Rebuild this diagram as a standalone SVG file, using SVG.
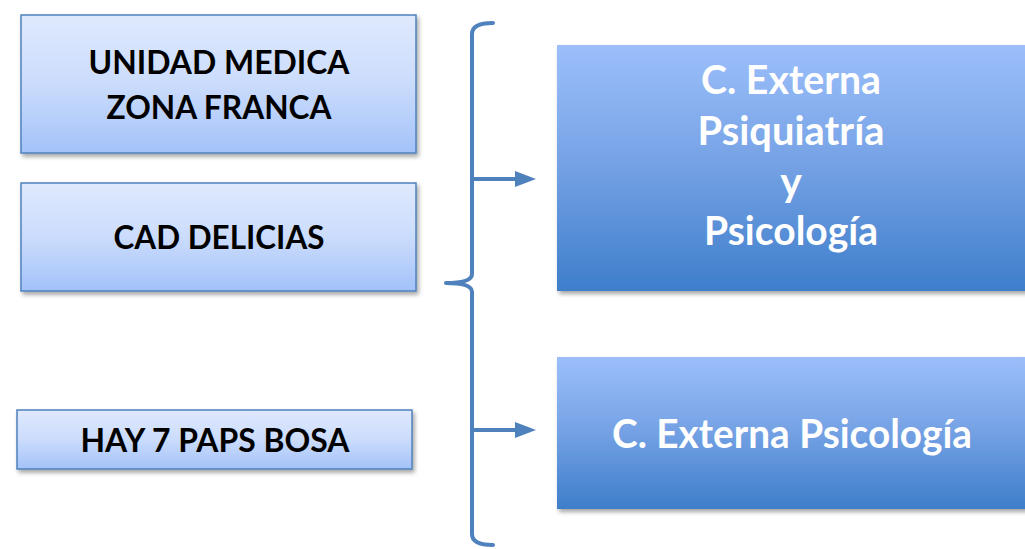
<svg xmlns="http://www.w3.org/2000/svg" width="1025" height="549" viewBox="0 0 1025 549">
  <defs>
    <linearGradient id="gLight" x1="0" y1="0" x2="0" y2="1">
      <stop offset="0" stop-color="#dfe9fd"/>
      <stop offset="0.5" stop-color="#cbdcfc"/>
      <stop offset="1" stop-color="#a3c2f9"/>
    </linearGradient>
    <linearGradient id="gDark" x1="0" y1="0" x2="0" y2="1">
      <stop offset="0" stop-color="#9cbffb"/>
      <stop offset="0.45" stop-color="#78a4e6"/>
      <stop offset="1" stop-color="#3e7ecb"/>
    </linearGradient>
    <filter id="shadow" x="-10%" y="-10%" width="120%" height="130%">
      <feDropShadow dx="2" dy="3" stdDeviation="2" flood-color="#000" flood-opacity="0.35"/>
    </filter>
    <marker id="arrow" viewBox="0 0 10 10" refX="9" refY="5" markerWidth="5" markerHeight="3.5" markerUnits="strokeWidth" orient="auto">
      <path d="M0,0 L10,5 L0,10 Z" fill="#4f81bd"/>
    </marker>
  </defs>
  <style>
    .light { fill: url(#gLight); stroke: #4f81bd; stroke-width: 1.5; filter: url(#shadow); }
    .dark { fill: url(#gDark); filter: url(#shadow); }
    .tl { font-family: Lato, "Open Sans", "Liberation Sans", sans-serif; font-weight: 700; font-size: 33px; fill: #000; text-anchor: middle; }
    .tr { font-family: Lato, "Open Sans", "Liberation Sans", sans-serif; font-weight: 700; font-size: 41px; fill: #fff; text-anchor: middle; }
    .conn { fill: none; stroke: #4f81bd; stroke-width: 4; stroke-linecap: round; stroke-linejoin: round; }
  </style>
  <rect width="1025" height="549" fill="#fff"/>

  <g id="node-unidad">
    <rect class="light" x="21" y="15" width="395" height="138"/>
    <text class="tl" x="219" y="74" textLength="261" lengthAdjust="spacingAndGlyphs">UNIDAD MEDICA</text>
    <text class="tl" x="219" y="119" textLength="225" lengthAdjust="spacingAndGlyphs">ZONA FRANCA</text>
  </g>
  <g id="node-cad">
    <rect class="light" x="21" y="183" width="395" height="108"/>
    <text class="tl" x="219" y="249" textLength="211" lengthAdjust="spacingAndGlyphs">CAD DELICIAS</text>
  </g>
  <g id="node-hay">
    <rect class="light" x="17" y="410" width="395" height="59"/>
    <text class="tl" x="215" y="452" textLength="269" lengthAdjust="spacingAndGlyphs">HAY 7 PAPS BOSA</text>
  </g>
  <g id="node-psiq">
    <rect class="dark" x="557" y="45" width="475" height="246"/>
    <text class="tr" x="791" y="94" textLength="180" lengthAdjust="spacingAndGlyphs">C. Externa</text>
    <text class="tr" x="791" y="145" textLength="187" lengthAdjust="spacingAndGlyphs">Psiquiatría</text>
    <text class="tr" x="791" y="196">y</text>
    <text class="tr" x="791" y="245" textLength="174" lengthAdjust="spacingAndGlyphs">Psicología</text>
  </g>
  <g id="node-psico">
    <rect class="dark" x="557" y="357" width="475" height="152"/>
    <text class="tr" x="792" y="448" textLength="360" lengthAdjust="spacingAndGlyphs">C. Externa Psicología</text>
  </g>

  <g id="connectors">
    <path class="conn" d="M493 23 Q472 23 472 34 L472 274 Q472 283 446 283 Q472 283 472 292 L472 534 Q472 545 493 545"/>
    <line class="conn" x1="472" y1="179" x2="520" y2="179" stroke-width="4"/>
    <polygon points="515,171 536,179 515,187" fill="#4f81bd"/>
    <line class="conn" x1="472" y1="430" x2="520" y2="430" stroke-width="4"/>
    <polygon points="515,422 536,430 515,438" fill="#4f81bd"/>
  </g>
</svg>
